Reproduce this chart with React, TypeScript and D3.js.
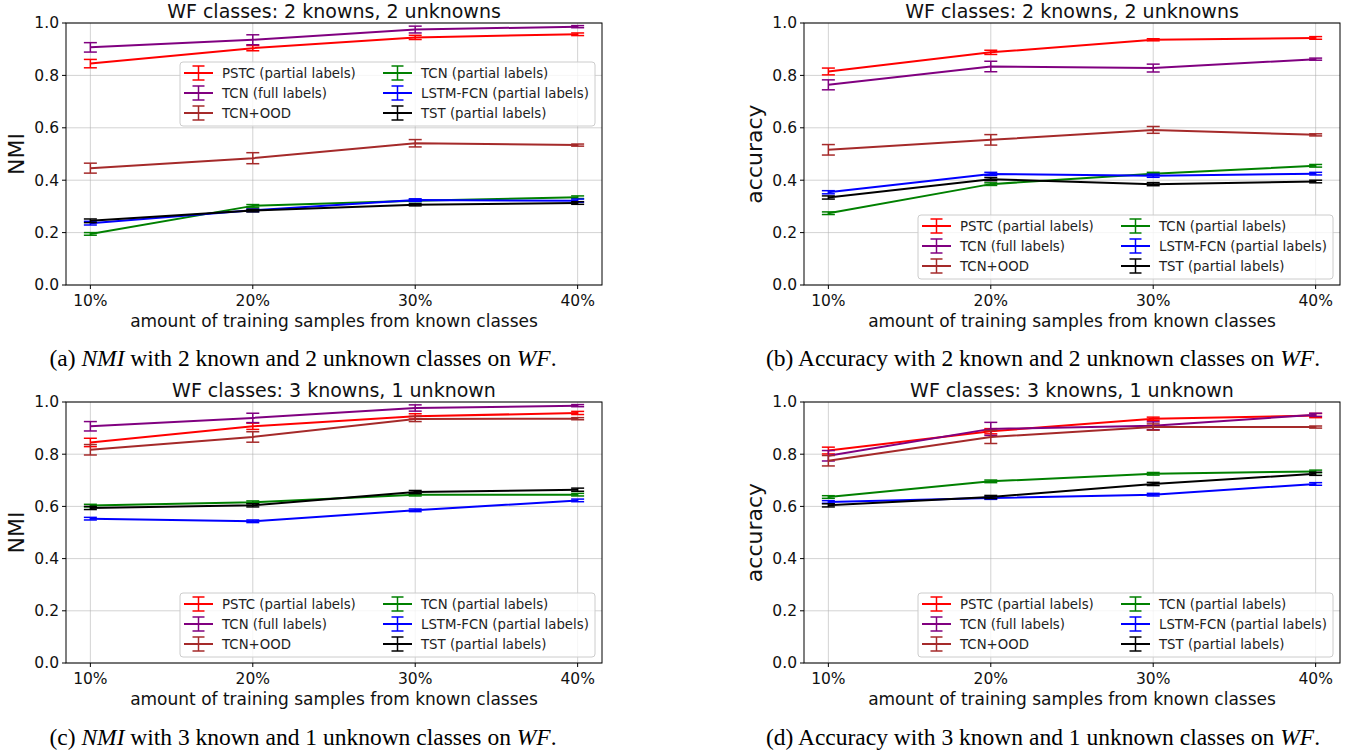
import * as d3 from 'd3'

const width = 1347
const height = 752

const xLabels = ['10%', '20%', '30%', '40%']
const yTicks = [0, 0.2, 0.4, 0.6, 0.8, 1.0]
const seriesNames = [
  'PSTC (partial labels)',
  'TCN (full labels)',
  'TCN+OOD',
  'TCN (partial labels)',
  'LSTM-FCN (partial labels)',
  'TST (partial labels)',
]
const seriesColors = ['red', 'purple', 'brown', 'green', 'blue', 'black']

// (a) NMI, 2 known / 2 unknown
const nmi22Mean = [
  [0.845, 0.904, 0.945, 0.957],
  [0.907, 0.936, 0.975, 0.986],
  [0.446, 0.484, 0.541, 0.534],
  [0.195, 0.302, 0.322, 0.335],
  [0.236, 0.285, 0.324, 0.322],
  [0.245, 0.284, 0.306, 0.313],
]
const nmi22Err = [
  [0.016, 0.01, 0.008, 0.005],
  [0.018, 0.019, 0.013, 0.004],
  [0.019, 0.021, 0.014, 0.004],
  [0.005, 0.005, 0.004, 0.005],
  [0.007, 0.005, 0.005, 0.006],
  [0.007, 0.005, 0.004, 0.005],
]

// (b) accuracy, 2 known / 2 unknown
const acc22Mean = [
  [0.815, 0.888, 0.936, 0.943],
  [0.764, 0.834, 0.828, 0.862],
  [0.516, 0.554, 0.592, 0.573],
  [0.274, 0.385, 0.425, 0.455],
  [0.354, 0.424, 0.417, 0.425],
  [0.334, 0.404, 0.385, 0.395],
]
const acc22Err = [
  [0.013, 0.008, 0.004, 0.005],
  [0.019, 0.02, 0.015, 0.004],
  [0.02, 0.02, 0.013, 0.004],
  [0.005, 0.005, 0.005, 0.005],
  [0.006, 0.006, 0.006, 0.005],
  [0.006, 0.006, 0.006, 0.005],
]

// (c) NMI, 3 known / 1 unknown
const nmi31Mean = [
  [0.845, 0.907, 0.945, 0.958],
  [0.907, 0.939, 0.977, 0.986],
  [0.817, 0.866, 0.935, 0.936],
  [0.603, 0.616, 0.645, 0.645],
  [0.553, 0.543, 0.585, 0.623],
  [0.594, 0.604, 0.655, 0.664],
]
const nmi31Err = [
  [0.016, 0.012, 0.01, 0.006],
  [0.018, 0.018, 0.012, 0.004],
  [0.02, 0.02, 0.01, 0.004],
  [0.005, 0.005, 0.005, 0.005],
  [0.005, 0.005, 0.005, 0.005],
  [0.006, 0.006, 0.006, 0.006],
]

// (d) accuracy, 3 known / 1 unknown
const acc31Mean = [
  [0.814, 0.888, 0.936, 0.948],
  [0.794, 0.897, 0.909, 0.951],
  [0.775, 0.866, 0.904, 0.904],
  [0.636, 0.696, 0.725, 0.734],
  [0.617, 0.632, 0.645, 0.686],
  [0.604, 0.636, 0.686, 0.725],
]
const acc31Err = [
  [0.013, 0.01, 0.006, 0.008],
  [0.02, 0.025, 0.015, 0.006],
  [0.02, 0.025, 0.012, 0.004],
  [0.005, 0.005, 0.005, 0.005],
  [0.005, 0.005, 0.005, 0.005],
  [0.006, 0.006, 0.006, 0.006],
]

const sans = 'DejaVu Sans'
const serif = 'Liberation Serif'

const Legend = ({ x, y }) => {
  const rows = seriesNames.map((name, i) => ({
    name,
    color: seriesColors[i],
    col: i < 3 ? 0 : 1,
    row: i % 3,
  }))
  return (
    <g transform={`translate(${x},${y})`}>
      <rect
        x={0}
        y={0}
        width={415}
        height={64}
        rx={3}
        fill="white"
        fillOpacity={0.8}
        stroke="#cccccc"
        strokeWidth={1}
      />
      {rows.map((r) => {
        const hx = r.col === 0 ? 4 : 203
        const tx = r.col === 0 ? 42 : 241
        const cy = 11 + r.row * 20
        const mid = hx + 14.5
        return (
          <g key={r.name}>
            <line x1={hx} x2={hx + 29} y1={cy} y2={cy} stroke={r.color} strokeWidth={2} />
            <line x1={mid} x2={mid} y1={cy - 7} y2={cy + 7} stroke={r.color} strokeWidth={1.5} />
            <line x1={mid - 6} x2={mid + 6} y1={cy - 7} y2={cy - 7} stroke={r.color} strokeWidth={1.5} />
            <line x1={mid - 6} x2={mid + 6} y1={cy + 7} y2={cy + 7} stroke={r.color} strokeWidth={1.5} />
            <text x={tx} y={cy} dy="0.35em" fontFamily={sans} fontSize={13.3} fill="#222">
              {r.name}
            </text>
          </g>
        )
      })}
    </g>
  )
}

const Panel = ({ left, top, w, h, title, ylabel, means, errs, legendTop }) => {
  const x = d3.scaleLinear().domain([-0.15, 3.15]).range([left, left + w])
  const y = d3.scaleLinear().domain([0, 1]).range([top + h, top])
  const line = d3
    .line()
    .x((d, i) => x(i))
    .y((d) => y(d))
  const bottom = top + h
  return (
    <g>
      {/* grid */}
      {yTicks.map((t) => (
        <line key={'gy' + t} x1={left} x2={left + w} y1={y(t)} y2={y(t)} stroke="#b0b0b0" strokeOpacity={0.7} strokeWidth={0.8} />
      ))}
      {xLabels.map((l, i) => (
        <line key={'gx' + l} x1={x(i)} x2={x(i)} y1={top} y2={bottom} stroke="#b0b0b0" strokeOpacity={0.7} strokeWidth={0.8} />
      ))}

      {/* series */}
      {means.map((vals, s) => (
        <g key={seriesNames[s]} stroke={seriesColors[s]}>
          <path d={line(vals)} fill="none" strokeWidth={2} />
          {vals.map((v, i) => {
            const e = errs[s][i]
            const cx = x(i)
            return (
              <g key={i} strokeWidth={1.5}>
                <line x1={cx} x2={cx} y1={y(v - e)} y2={y(v + e)} />
                <line x1={cx - 6.5} x2={cx + 6.5} y1={y(v - e)} y2={y(v - e)} />
                <line x1={cx - 6.5} x2={cx + 6.5} y1={y(v + e)} y2={y(v + e)} />
              </g>
            )
          })}
        </g>
      ))}

      {/* frame */}
      <rect x={left} y={top} width={w} height={h} fill="none" stroke="black" strokeWidth={1} />

      {/* y ticks */}
      {yTicks.map((t) => (
        <g key={'yt' + t}>
          <line x1={left - 4} x2={left} y1={y(t)} y2={y(t)} stroke="black" />
          <text x={left - 7} y={y(t)} dy="0.35em" textAnchor="end" fontFamily={sans} fontSize={15.5} fill="#111">
            {t.toFixed(1)}
          </text>
        </g>
      ))}
      {/* x ticks */}
      {xLabels.map((l, i) => (
        <g key={'xt' + l}>
          <line x1={x(i)} x2={x(i)} y1={bottom} y2={bottom + 4} stroke="black" />
          <text x={x(i)} y={bottom + 21} textAnchor="middle" fontFamily={sans} fontSize={15.5} fill="#111">
            {l}
          </text>
        </g>
      ))}

      <text x={left + w / 2} y={top - 5} textAnchor="middle" fontFamily={sans} fontSize={19} fill="#111">
        {title}
      </text>
      <text x={left + w / 2} y={bottom + 42} textAnchor="middle" fontFamily={sans} fontSize={17} fill="#111">
        amount of training samples from known classes
      </text>
      <text
        transform={`translate(${left - 42},${top + h / 2}) rotate(-90)`}
        textAnchor="middle"
        fontFamily={sans}
        fontSize={22}
        fill="#111"
      >
        {ylabel}
      </text>

      <Legend x={left + w - 7 - 415} y={legendTop} />
    </g>
  )
}

const Caption = ({ cx, y, tag, metric, metricItalic, known, unknown }) => (
  <text x={cx} y={y} textAnchor="middle" fontFamily={serif} fontSize={23.5} fill="black">
    <tspan>{tag + ' '}</tspan>
    <tspan fontStyle={metricItalic ? 'italic' : 'normal'}>{metric}</tspan>
    <tspan>{` with ${known} known and ${unknown} unknown classes on `}</tspan>
    <tspan fontStyle="italic">WF</tspan>
    <tspan>.</tspan>
  </text>
)

const App = () => {
  const w = 536
  return (
    <svg width={width} height={height} style={{ display: 'block', position: 'absolute', left: 0, top: 0, background: 'white' }}>
      <Panel left={66} top={23} w={w} h={262} title="WF classes: 2 knowns, 2 unknowns" ylabel="NMI" means={nmi22Mean} errs={nmi22Err} legendTop={62} />
      <Panel left={804} top={23} w={w} h={262} title="WF classes: 2 knowns, 2 unknowns" ylabel="accuracy" means={acc22Mean} errs={acc22Err} legendTop={215} />
      <Panel left={66} top={402} w={w} h={261} title="WF classes: 3 knowns, 1 unknown" ylabel="NMI" means={nmi31Mean} errs={nmi31Err} legendTop={593} />
      <Panel left={804} top={402} w={w} h={261} title="WF classes: 3 knowns, 1 unknown" ylabel="accuracy" means={acc31Mean} errs={acc31Err} legendTop={593} />

      <Caption cx={303} y={366} tag="(a)" metric="NMI" metricItalic known={2} unknown={2} />
      <Caption cx={1043} y={366} tag="(b)" metric="Accuracy" metricItalic={false} known={2} unknown={2} />
      <Caption cx={303} y={745} tag="(c)" metric="NMI" metricItalic known={3} unknown={1} />
      <Caption cx={1043} y={745} tag="(d)" metric="Accuracy" metricItalic={false} known={3} unknown={1} />
    </svg>
  )
}

export default App
